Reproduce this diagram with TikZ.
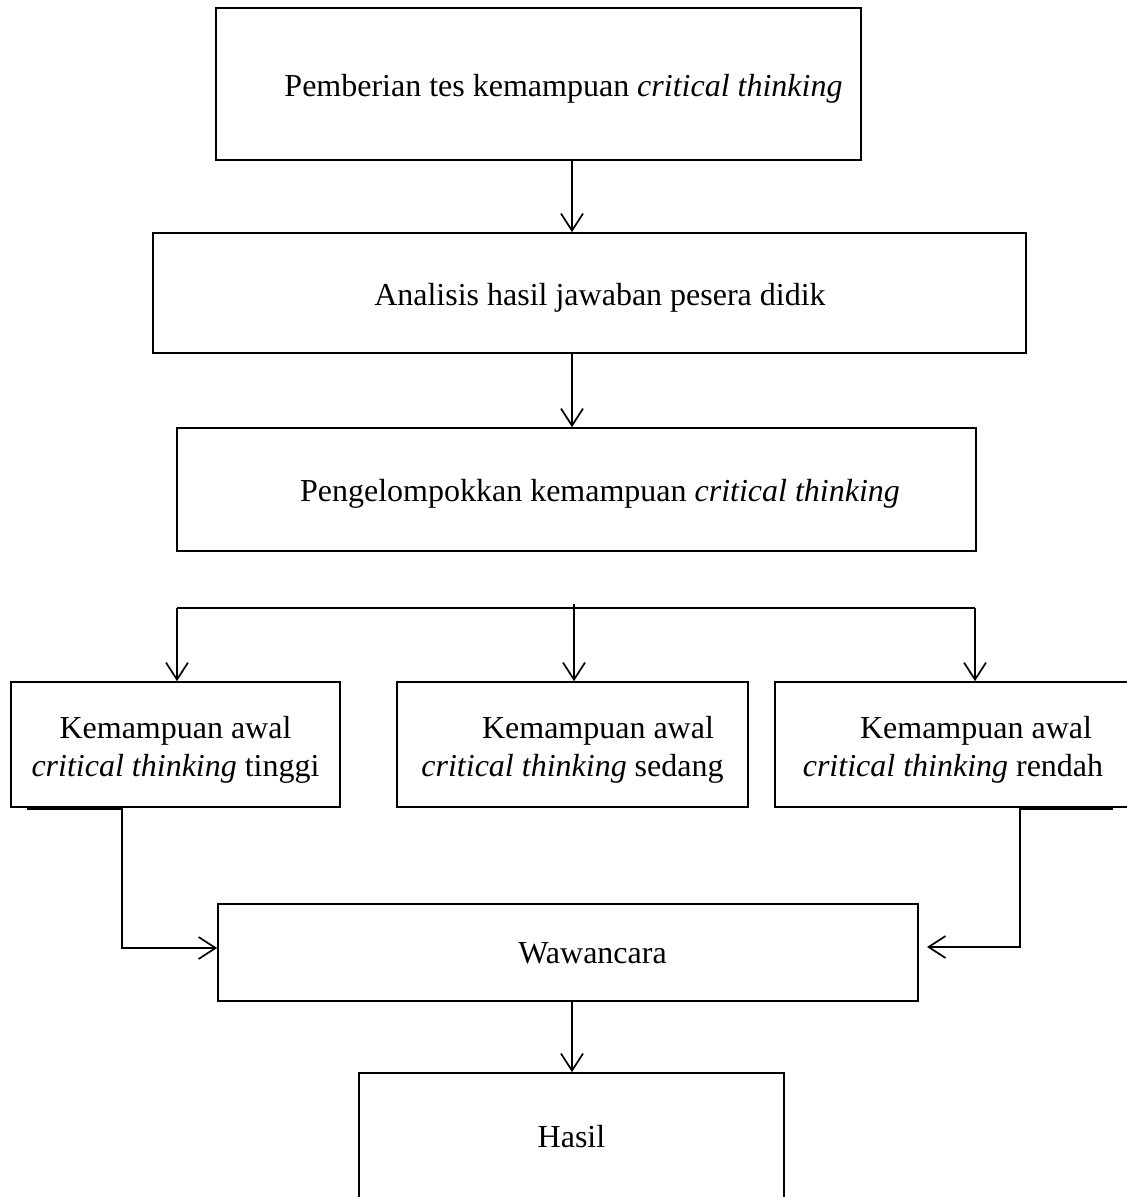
\documentclass[tikz,border=0pt]{standalone}
\usepackage{fontspec}
\setmainfont{Liberation Serif}
\usetikzlibrary{arrows.meta}
\tikzset{
  box/.style={draw, line width=1.7pt, inner sep=0pt, align=center,
    font=\fontsize{32}{38}\selectfont},
  bigbox/.style={box, line width=2.4pt},
  conn/.style={line width=1.7pt},
  arr/.style={conn, -{Straight Barb[length=17pt,width=22pt,line width=1.7pt]}}
}
\newcommand{\lowtxt}[2]{\raisebox{-#1}[\height][\depth]{\begin{tabular}{@{}c@{}}#2\end{tabular}}}
\begin{document}
\begin{tikzpicture}[x=1pt,y=-1pt]
\clip (0,0) rectangle (1127,1197);
\fill[white] (0,0) rectangle (1127,1197);

\node[bigbox, minimum width=645pt, minimum height=152pt] (b1) at (538.5,84)
  {\lowtxt{5pt}{\hspace*{50pt}Pemberian tes kemampuan \textit{critical thinking}}};
\node[box, minimum width=873pt, minimum height=120pt] (b2) at (589.5,293)
  {\lowtxt{5pt}{\hspace*{21pt}Analisis hasil jawaban pesera didik}};
\node[box, minimum width=799pt, minimum height=123pt] (b3) at (576.5,489.5)
  {\lowtxt{4pt}{\hspace*{47pt}Pengelompokkan kemampuan \textit{critical thinking}}};

\node[box, minimum width=329pt, minimum height=125pt] (bl) at (175.5,744.5)
  {\lowtxt{5pt}{Kemampuan awal\\\textit{critical thinking} tinggi}};
\node[box, minimum width=351pt, minimum height=125pt] (bm) at (572.5,744.5)
  {\lowtxt{5pt}{\hspace*{51pt}Kemampuan awal\\\textit{critical thinking} sedang}};
\node[box, minimum width=356pt, minimum height=125pt] (br) at (953,744.5)
  {\lowtxt{5pt}{\hspace*{46pt}Kemampuan awal\\\textit{critical thinking} rendah}};

\node[box, minimum width=700pt, minimum height=97pt] (w) at (568,952.5)
  {\lowtxt{3pt}{\hspace*{49pt}Wawancara}};
\node[box, minimum width=425pt, minimum height=126pt] (h) at (571.5,1136)
  {\lowtxt{4pt}{Hasil}};

% connector coordinates
\coordinate (xa) at (572,0);
\coordinate (sl) at (177,608);
\coordinate (sr) at (975,608);
\coordinate (sm) at (574,604);
\coordinate (ls) at (27,809);
\coordinate (lc) at (122,809);
\coordinate (lj) at (122,948);
\coordinate (rs) at (1113,809);
\coordinate (rc) at (1020,809);
\coordinate (rj) at (1020,947);
\coordinate (rt) at (927,947);

\draw[arr] (b1.south -| xa) -- (b2.north -| xa);
\draw[arr] (b2.south -| xa) -- (b3.north -| xa);

\draw[conn] (sl) -- (sr);
\draw[arr] (sl) -- (sl |- bl.north);
\draw[arr] (sm) -- (sm |- bm.north);
\draw[arr] (sr) -- (sr |- br.north);

\draw[arr] (ls) -- (lc) -- (lj) -- (lj -| w.west);
\draw[arr] (rs) -- (rc) -- (rj) -- (rt);

\draw[arr] (w.south -| xa) -- (h.north -| xa);
\end{tikzpicture}
\end{document}
